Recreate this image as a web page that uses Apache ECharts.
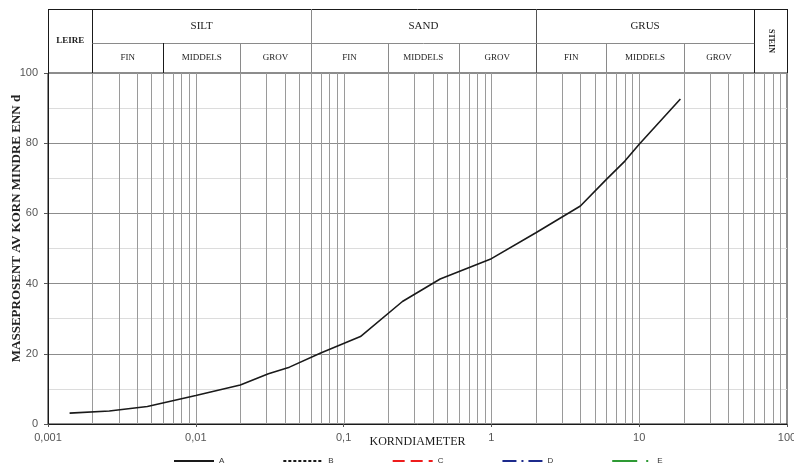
<!DOCTYPE html>
<html>
<head>
<meta charset="utf-8">
<script src="https://cdn.jsdelivr.net/npm/echarts@6/dist/echarts.min.js"></script>
<style>
  html, body { margin: 0; padding: 0; background: #fff; }
  #chart { width: 794px; height: 468px; }
</style>
</head>
<body>
<div id="chart"></div>
<script>
// Grain size distribution (kornfordeling), sample A
const grainSizeMm = [0.0014, 0.0026, 0.0047, 0.01, 0.02, 0.031, 0.043, 0.07, 0.13, 0.25, 0.45, 1, 2, 4, 6, 8, 10, 19];
const passingPctA = [3.1, 3.7, 5.0, 8.1, 11.1, 14.3, 16.2, 20.2, 24.9, 34.9, 41.3, 47.1, 54.5, 62.1, 69.7, 74.9, 79.7, 92.6];

const seriesNames = ['A', 'B', 'C', 'D', 'E'];

// Soil fraction header: main classes and their limits (mm)
const mainClassNames = ['LEIRE', 'SILT', 'SAND', 'GRUS', 'STEIN'];
const mainClassLimits = [0.001, 0.002, 0.06, 2, 60, 100];
const subClassNames = ['FIN', 'MIDDELS', 'GROV'];
const subClassLimits = [
  [0.002, 0.006, 0.02, 0.06],
  [0.06, 0.2, 0.6, 2],
  [2, 6, 20, 60]
];

const xMin = 0.001, xMax = 100;

// Vertical grid lines at 1..9 of every decade
const gridValues = [];
for (let e = -3; e <= 1; e++) {
  for (let k = 1; k <= 9; k++) {
    const v = parseFloat((k * Math.pow(10, e)).toPrecision(3));
    if (v > xMin && v < xMax) gridValues.push(v);
  }
}

const chart = echarts.init(document.getElementById('chart'));

const serifFont = '"Liberation Serif", "Times New Roman", serif';
const sansFont = '"Liberation Sans", Arial, sans-serif';

const lineStyles = {
  A: { color: '#1a1a1a', width: 1.6, type: 'solid' },
  B: { color: '#1a1a1a', width: 1.2, type: [3, 2] },
  C: { color: '#ee1c1c', width: 1.8, type: [12, 6] },
  D: { color: '#1c2a8c', width: 1.8, type: [14, 5, 2, 5] },
  E: { color: '#2e9a34', width: 3, type: [25, 9, 2, 10] }
};

const series = [];

// Vertical log grid, drawn through the axis scale
series.push({
  name: 'grid',
  type: 'custom',
  silent: true,
  z: 1,
  data: gridValues.map(function (v) { return [v]; }),
  encode: { x: 0 },
  renderItem: function (params, api) {
    const v = api.value(0);
    const p1 = api.coord([v, 0]);
    const p2 = api.coord([v, 100]);
    return {
      type: 'line',
      shape: { x1: Math.round(p1[0]) + 0.5, y1: p1[1], x2: Math.round(p2[0]) + 0.5, y2: p2[1] },
      style: { stroke: '#9a9a9a', lineWidth: 1 }
    };
  }
});

seriesNames.forEach(function (name) {
  series.push({
    name: name,
    type: 'line',
    symbol: 'none',
    smooth: false,
    lineStyle: lineStyles[name],
    itemStyle: { color: lineStyles[name].color },
    data: name === 'A' ? grainSizeMm.map(function (x, i) { return [x, passingPctA[i]]; }) : [],
    z: 5
  });
});

chart.setOption({
  animation: false,
  backgroundColor: '#ffffff',
  grid: {
    left: 48, right: 7, top: 73, bottom: 44,
    containLabel: false,
    outerBoundsMode: 'none',
    show: true, borderColor: '#1a1a1a', borderWidth: 1
  },
  xAxis: {
    type: 'log',
    logBase: 10,
    min: xMin,
    max: xMax,
    name: 'KORNDIAMETER',
    nameLocation: 'middle',
    nameGap: 12,
    nameMoveOverlap: false,
    nameTextStyle: { fontFamily: serifFont, fontSize: 12, color: '#1a1a1a' },
    axisLine: { lineStyle: { color: '#1a1a1a', width: 1 } },
    axisTick: { show: true, length: 3, lineStyle: { color: '#555' } },
    axisLabel: {
      fontFamily: sansFont, fontSize: 11, color: '#555', margin: 8,
      formatter: function (v) { return String(+v.toPrecision(3)).replace('.', ','); }
    },
    splitLine: { show: false }
  },
  yAxis: {
    type: 'value',
    min: 0,
    max: 100,
    interval: 20,
    name: 'MASSEPROSENT AV KORN MINDRE ENN d',
    nameLocation: 'middle',
    nameRotate: 90,
    nameGap: 25,
    nameMoveOverlap: false,
    nameTextStyle: {
      fontFamily: serifFont, fontSize: 13, fontWeight: 'bold', color: '#222',
      padding: [0, 0, 0, 40]
    },
    axisLine: { show: true, lineStyle: { color: '#1a1a1a', width: 1 } },
    axisTick: { show: true, length: 4, lineStyle: { color: '#555' } },
    axisLabel: { fontFamily: sansFont, fontSize: 11, color: '#555', margin: 10 },
    splitLine: { show: true, lineStyle: { color: '#8c8c8c', width: 1 } },
    minorTick: { show: false, splitNumber: 2 },
    minorSplitLine: { show: true, lineStyle: { color: '#dcdcdc', width: 1 } }
  },
  legend: {
    data: seriesNames,
    left: 173,
    top: 457,
    padding: 0,
    itemWidth: 40,
    itemHeight: 10,
    itemGap: 58,
    itemStyle: { opacity: 0 },
    textStyle: { fontFamily: sansFont, fontSize: 8, color: '#333' }
  },
  series: series
});

// Fraction header above the plot, placed with the x axis scale
function px(v) { return chart.convertToPixel({ xAxisIndex: 0 }, v); }
const yTop = 9, yMid = 43, yBot = chart.convertToPixel({ yAxisIndex: 0 }, 100);
const xL = px(xMin), xR = px(xMax);
const dark = '#1a1a1a', grey = '#8a8a8a';

const g = [];
function vline(x, y1, y2, color) {
  x = Math.round(x) + 0.5;
  g.push({ type: 'line', shape: { x1: x, y1: y1, x2: x, y2: y2 }, style: { stroke: color, lineWidth: 1 }, z: 10 });
}
function hline(x1, x2, y, color) {
  y = Math.round(y) + 0.5;
  g.push({ type: 'line', shape: { x1: x1, y1: y, x2: x2, y2: y }, style: { stroke: color, lineWidth: 1 }, z: 10 });
}
function label(text, x, y, font, rot) {
  g.push({
    type: 'text', x: x, y: y, rotation: rot || 0, z: 11,
    style: { text: text, font: font, fill: '#222', align: 'center', verticalAlign: 'middle' }
  });
}

// outer box
hline(xL, xR, yTop, dark);
vline(xL, yTop, yBot, dark);
vline(xR, yTop, yBot, dark);
// main class separators
vline(px(0.002), yTop, yBot, dark);
vline(px(0.06), yTop, yBot, grey);
vline(px(2), yTop, yBot, '#555');
vline(px(60), yTop, yBot, dark);
hline(px(0.002), px(60), yMid, grey);

// main class labels
const mainFontBig = '11px ' + serifFont;
const centres = mainClassLimits.slice(0, -1).map(function (lo, i) {
  return (px(lo) + px(mainClassLimits[i + 1])) / 2;
});
label(mainClassNames[0], centres[0], (yTop + yBot) / 2, 'bold 9px ' + serifFont);
label(mainClassNames[1], centres[1], (yTop + yMid) / 2, mainFontBig);
label(mainClassNames[2], centres[2], (yTop + yMid) / 2, mainFontBig);
label(mainClassNames[3], centres[3], (yTop + yMid) / 2, mainFontBig);
label(mainClassNames[4], centres[4], (yTop + yBot) / 2, 'bold 8px ' + serifFont, -Math.PI / 2);

// sub classes
subClassLimits.forEach(function (lims, ci) {
  for (let i = 1; i < lims.length - 1; i++) {
    vline(px(lims[i]), yMid, yBot, (ci === 0 && i === 1) ? dark : grey);
  }
  for (let i = 0; i < subClassNames.length; i++) {
    label(subClassNames[i], (px(lims[i]) + px(lims[i + 1])) / 2, (yMid + yBot) / 2, '9px ' + serifFont);
  }
});

chart.setOption({ graphic: g });
</script>
</body>
</html>
